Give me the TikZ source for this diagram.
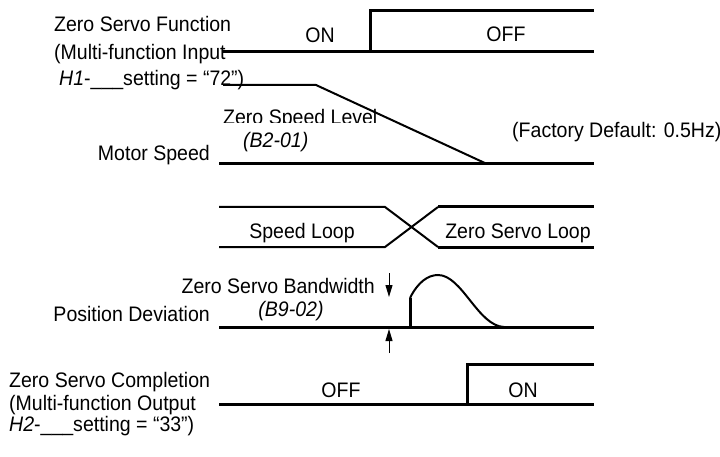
\documentclass[tikz,border=0pt]{standalone}
\usepackage{fontspec}
\usepackage{graphicx}
\setmainfont{Liberation Sans}
\usetikzlibrary{arrows.meta}

\newcommand{\nar}[1]{\scalebox{0.93}[1]{#1}}

\begin{document}
\begin{tikzpicture}[
  x=1pt,y=-1pt,
  lbl/.style={inner sep=0pt,font=\fontsize{21}{24}\selectfont},
  lw/.style={lbl,anchor=base west},
  le/.style={lbl,anchor=base east},
  lc/.style={lbl,anchor=base},
  sig/.style={line width=3pt},
  thinsig/.style={line width=2pt},
  bwarrow/.style={-{Triangle[length=12pt,width=7pt]},line width=1pt},
]
\useasboundingbox (0,0) rectangle (720,457);

% labels of the signals
\node[lw] (fn) at (54,31.7) {\nar{Zero Servo Function}};
\node[lw] (fnin) at (54,60) {\nar{(Multi-function Input}};
\node[lw] (fnset) at (59,86) {\nar{\textit{H1}-\_\_\_setting = “72”)}};
\node[le] (spd) at (210,160.5) {\nar{Motor Speed}};
\node[le] (posdev) at (210,321) {\nar{Position Deviation}};
\node[lw] (comp) at (9,387) {\nar{Zero Servo Completion}};
\node[lw] (compout) at (9,410) {\nar{(Multi-function Output}};
\node[lw] (compset) at (9,431) {\nar{\textit{H2}-\_\_\_setting = “33”)}};

% texts on the traces
\node[lc] (on1) at (320,43) {\nar{ON}};
\node[lc] (off1) at (506,42) {\nar{OFF}};
\begin{scope}
  \clip (215,100) rectangle (400,122.5);
  \node[lw] (zsl) at (223,125) {\nar{Zero Speed Level}};
\end{scope}
\node[lw] (b201) at (243,148) {\nar{\textit{(B2-01)}}};
\node[lw] (fact) at (512,138) {\nar{(Factory Default: 0.5Hz)}};
\node[lc] (sloop) at (302,238) {\nar{Speed Loop}};
\node[lc] (zsloop) at (518,238) {\nar{Zero Servo Loop}};
\node[le] (bw) at (375,293) {\nar{Zero Servo Bandwidth}};
\node[lc] (b902) at (291,316) {\nar{\textit{(B9-02)}}};
\node[lc] (off2) at (341,397) {\nar{OFF}};
\node[lc] (on2) at (523,397) {\nar{ON}};

% zero servo function
\draw[sig] (222,52) -- (594,52);
\draw[sig] (370,52) -- (370,10.5) -- (594,10.5);

% motor speed
\draw[thinsig] (223,85) -- (316,85) -- (487,164);
\draw[sig] (219,164) -- (594,164);

% speed loop / zero servo loop
\draw[thinsig] (219,207) -- (385,207) -- (438,247);
\draw[thinsig] (219,247) -- (385,247) -- (438,207);
\draw[sig] (438,207) -- (594,207);
\draw[sig] (438,247) -- (594,247);

% position deviation
\draw[sig] (219,327) -- (594,327);
\draw[sig] (410,327) -- (410,298);
\draw[thinsig] (410,298) .. controls (418,282) and (428,275) .. (438,275)
  .. controls (462,275) and (478,326) .. (504,327);
\coordinate (bwtop) at (389,273);
\coordinate (bwhi) at (389,297);
\coordinate (bwlo) at (389,329);
\coordinate (bwbot) at (389,353);
\draw[bwarrow] (bwtop) -- (bwhi);
\draw[bwarrow] (bwbot) -- (bwlo);

% zero servo completion
\draw[sig] (219,404) -- (594,404);
\draw[sig] (467,404) -- (467,364) -- (594,364);
\end{tikzpicture}
\end{document}
